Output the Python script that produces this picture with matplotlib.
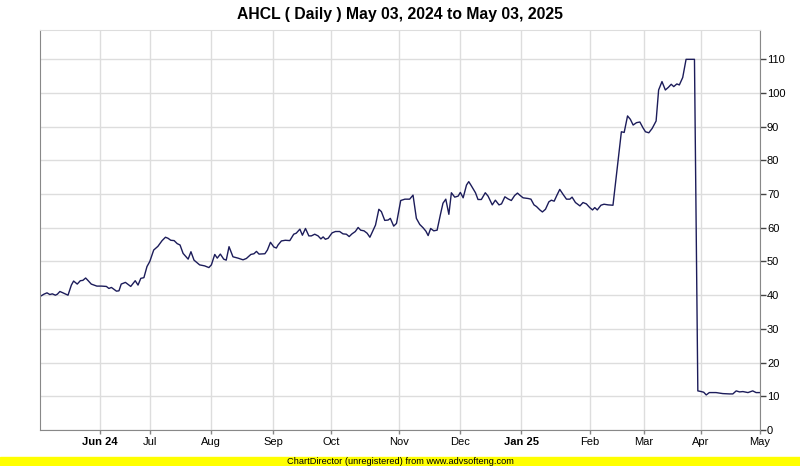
import matplotlib
matplotlib.use('Agg')
import matplotlib.pyplot as plt

# price series; x is the trading-session number from May 03, 2024
sessions = [0.0, 1.4, 2.5, 3.5, 4.4, 5.5, 6.2, 7.1, 8.2, 10.0, 11.2, 12.0, 13.3, 14.4, 15.3,
            16.3, 17.1, 18.3, 20.3, 21.9, 23.7, 24.6, 25.5, 27.3, 28.2, 29.0, 30.5, 32.4, 34.0,
            35.0, 36.0, 37.1, 38.2, 39.2, 40.6, 42.1, 43.6, 44.8, 45.7, 46.7, 47.9, 49.0, 50.0,
            51.1, 52.9, 53.9, 55.0, 57.0, 58.8, 60.3, 61.2, 62.4, 63.3, 64.4, 65.6, 66.5, 67.5,
            68.9, 70.7, 72.5, 73.7, 75.3, 76.4, 77.3, 78.2, 80.3, 81.2, 82.3, 83.5, 84.4, 85.0,
            86.2, 87.6, 89.2, 90.6, 91.5, 92.8, 93.7, 94.8, 96.0, 96.9, 98.1, 99.3, 100.3, 101.1,
            101.9, 102.9, 104.3, 105.5, 107.0, 108.2, 109.4, 110.4, 111.4, 112.6, 113.6, 114.5,
            115.7, 116.8, 117.8, 118.7, 119.8, 121.0, 121.9, 123.1, 124.3, 125.1, 126.3, 127.3,
            128.8, 130.3, 132.0, 133.2, 134.4, 135.6, 136.8, 137.8, 138.6, 139.5, 140.6, 141.8,
            143.0, 143.9, 144.9, 146.0, 146.9, 148.1, 149.3, 150.1, 151.1, 152.3, 153.1, 154.0,
            155.5, 156.4, 157.6, 159.0, 160.0, 161.5, 162.6, 163.9, 164.8, 166.0, 167.1, 168.3,
            169.5, 170.5, 171.3, 172.5, 174.3, 175.3, 176.4, 177.3, 178.5, 179.4, 180.5, 181.7,
            182.6, 183.6, 184.6, 185.6, 186.8, 188.0, 189.2, 190.0, 191.2, 192.8, 193.9, 195.1,
            196.3, 197.3, 198.1, 199.0, 200.3, 201.4, 202.9, 204.6, 207.6, 208.6, 209.8, 210.8,
            211.8, 213.0, 214.2, 215.3, 216.2, 217.4, 218.6, 220.0, 220.9, 222.1, 223.3, 224.4,
            225.4, 226.3, 227.4, 228.3, 229.5, 230.7, 233.7, 234.9, 236.1, 237.0, 237.9, 239.0,
            241.4, 243.8, 246.2, 247.4, 248.6, 249.8, 251.0, 252.8, 254.5, 255.7, 256.9]
close = [39.6, 40.3, 40.7, 40.2, 40.4, 40.0, 40.3, 41.1, 40.7, 40.0, 43.0, 44.2, 43.3, 44.3, 44.4,
         45.1, 44.4, 43.3, 42.7, 42.7, 42.6, 42.0, 42.3, 41.2, 41.3, 43.3, 43.8, 42.6, 44.3,
         43.0, 45.0, 45.2, 48.5, 50.0, 53.4, 54.5, 56.2, 57.2, 56.9, 56.3, 56.2, 55.3, 54.9,
         52.4, 50.7, 52.9, 50.4, 49.0, 48.7, 48.2, 49.0, 52.1, 51.0, 52.2, 50.7, 50.4, 54.4,
         51.4, 51.0, 50.5, 50.9, 52.1, 52.3, 53.0, 52.2, 52.3, 53.4, 55.7, 54.3, 54.0, 54.9,
         56.1, 56.3, 56.2, 58.1, 58.4, 59.6, 57.8, 59.8, 57.6, 57.6, 58.1, 57.6, 56.7, 57.3,
         56.6, 56.9, 58.5, 58.9, 58.9, 58.2, 58.1, 57.4, 58.2, 58.9, 60.1, 59.3,
         59.1, 58.4, 57.2, 58.8, 60.8, 65.5, 64.8, 62.2, 62.3, 62.8, 60.5, 61.3,
         68.1, 68.5, 68.5, 69.7, 62.8, 61.0, 60.0, 59.0, 57.7, 59.8, 59.1, 59.3,
         64.0, 67.3, 68.5, 64.0, 70.4, 69.1, 69.4, 70.5, 68.9, 72.7, 73.7, 72.5,
         70.4, 68.4, 68.4, 70.4, 69.4, 66.8, 68.2, 66.8, 67.1, 69.2, 68.6, 68.1,
         69.6, 70.3, 69.7, 68.9, 68.7, 68.5, 66.8, 66.3, 65.3, 64.7, 65.5, 67.7,
         68.2, 67.9, 69.7, 71.4, 69.9, 68.5, 68.5, 69.1, 67.5, 66.5, 67.5, 67.1,
         66.0, 65.3, 66.0, 65.3, 66.7, 67.0, 66.8, 66.7, 88.5, 88.3, 93.2, 92.2,
         90.5, 91.2, 91.4, 89.7, 88.5, 88.2, 89.5, 91.7, 100.9, 103.4, 100.9, 101.7,
         102.6, 101.9, 102.7, 102.4, 104.6, 110.0, 110.0, 11.6, 11.4, 11.2, 10.4, 11.1,
         11.1, 10.8, 10.7, 10.7, 11.6, 11.3, 11.4, 11.1, 11.6, 11.1, 11.1]

month_pos = [21.4, 39.3, 61.1, 83.2, 103.9, 128.1, 150.1, 171.9, 196.3, 215.7, 236.0, 257.1]
month_labels = ['Jun 24', 'Jul', 'Aug', 'Sep', 'Oct', 'Nov', 'Dec', 'Jan 25', 'Feb', 'Mar', 'Apr', 'May']
y_ticks = [0, 10, 20, 30, 40, 50, 60, 70, 80, 90, 100, 110]

plt.rcParams['font.family'] = ['Liberation Sans', 'DejaVu Sans']

fig = plt.figure(figsize=(8, 4.66), dpi=100)
ax = fig.add_axes([0.05, 0.0773, 0.9, 0.8583])

ax.plot(sessions, close, color='#1c1c5a', linewidth=1.0)

ax.set_xlim(0, 257.1)
ax.set_ylim(0, 118.7)
ax.set_xticks(month_pos)
ax.set_xticklabels(month_labels, fontsize=8)
for lab in ax.get_xticklabels():
    if lab.get_text() in ('Jun 24', 'Jan 25'):
        lab.set_fontweight('bold')
ax.set_yticks(y_ticks)
ax.yaxis.tick_right()
ax.tick_params(axis='y', labelsize=8, length=4, width=1, color='#444444', pad=1)
ax.tick_params(axis='x', length=3, width=1, color='#888888', pad=2)

ax.grid(True, color='#dddddd', linewidth=1)
ax.set_axisbelow(True)
for side in ['left', 'bottom', 'right']:
    ax.spines[side].set_color('#888888')
ax.spines['top'].set_color('#dddddd')

fig.suptitle('AHCL ( Daily ) May 03, 2024 to May 03, 2025', fontsize=11.3, fontweight='bold', y=0.985)

# unregistered banner at the bottom
fig.patches.append(plt.Rectangle((0, 0), 1, 0.019, transform=fig.transFigure, color='#ffff00', zorder=0))
fig.text(0.5, 0.0095, 'ChartDirector (unregistered) from www.advsofteng.com', ha='center', va='center', fontsize=6.7)

plt.savefig('out.png')
